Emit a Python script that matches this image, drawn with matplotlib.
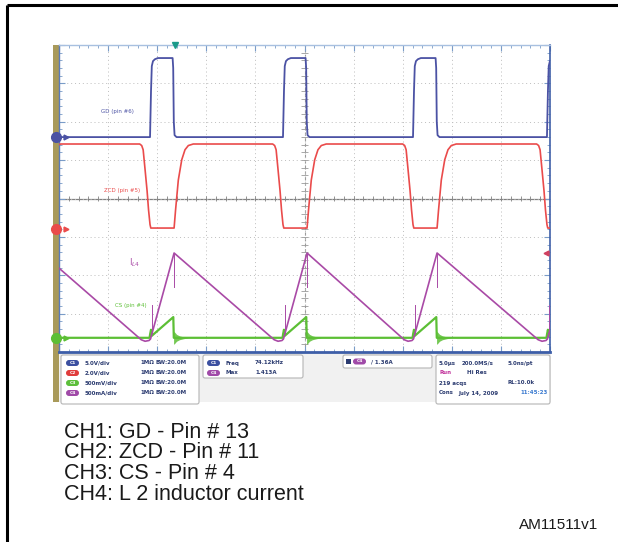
import numpy as np
import matplotlib
matplotlib.use("Agg")
import matplotlib.pyplot as plt
from matplotlib.patches import Rectangle, FancyBboxPatch

# scope grid: 5 us/div, 10 x 8 divisions, levels in divisions from centre
us_per_div = 5.0
n_xdiv = 10
n_ydiv = 8

# gate drive rising edges (us)
gd_edges = [-4.22, 9.27, 22.81, 36.05, 49.69]

# one switching cycle of each trace, time relative to the gate edge (us)
gd_t = [-0.05, 0.0, 0.1, 0.18, 0.3, 0.5, 0.8, 2.30, 2.36, 2.42, 2.5, 2.7]
gd_v = [1.60, 1.60, 2.80, 3.45, 3.58, 3.63, 3.66, 3.66, 3.40, 2.00, 1.65, 1.60]

zcd_t = [-1.05, -0.85, -0.7, -0.5, -0.3, -0.15, 0.0, 0.08, 2.45, 2.6, 2.88, 3.23, 3.56, 3.9, 4.4]
zcd_v = [1.42, 1.38, 1.27, 0.74, 0.2, -0.30, -0.68, -0.77, -0.77, -0.30, 0.48, 1.01, 1.27, 1.38, 1.42]

il_t = [-0.9, -0.5, -0.1, 0.05, 2.45]
il_v = [-3.68, -3.72, -3.70, -3.66, -1.42]
il_spikes = [(0.2, -2.78, -3.51), (2.48, -1.45, -2.30)]

cs_t = [-0.05, 0.02, 0.1, 0.17, 2.37, 2.42]
cs_v = [-3.63, -3.52, -3.42, -3.58, -3.09, -3.63]
cs_ring_t = [2.40, 2.5, 2.7, 3.0, 3.4, 3.9]
cs_ring_hw = [0.17, 0.15, 0.09, 0.05, 0.025, 0.0]
cs_base = -3.63

# channel ground markers (div)
ground_levels = [1.60, -0.79, -3.63]

trace_colors = ["#4b52a4", "#ea4b4b", "#5cbf35", "#a94aa6"]
pill_colors = ["#3b4fa0", "#e03c3c", "#5cbf3a", "#a04aa8"]

trace_labels = ["GD (pin #6)", "ZCD (pin #5)", "CS (pin #4)", "I$_{L4}$"]
trace_label_pos = [(6.0, 2.26), (6.4, 0.2), (7.3, -2.8), (7.7, -1.68)]
trace_label_size = [4.0, 4.0, 4.0, 6.0]

ch_names = ["C1", "C2", "C3", "C4"]
ch_scales = ["5.0V/div", "2.0V/div", "500mV/div", "500mA/div"]
meas_rows = [("C1", "Freq", "74.12kHz"), ("C4", "Max", "1.413A")]
trig_level = "1.36A"
acq_rows = [["5.0\u00b5s", "200.0MS/s", "5.0ns/pt"],
            ["Run", "Hi Res"],
            ["219 acqs", "RL:10.0k"],
            ["Cons", "July 14, 2009", "11:45:23"]]

notes = ["CH1: GD - Pin # 13",
         "CH2: ZCD - Pin # 11",
         "CH3: CS - Pin # 4",
         "CH4: L 2 inductor current"]
fig_id = "AM11511v1"


def build(edges, rel_t, rel_v):
    t = []
    v = []
    for e in edges:
        t.extend([e + x for x in rel_t])
        v.extend(rel_v)
    return np.array(t), np.array(v)


W, H = 618, 542
fig = plt.figure(figsize=(W / 100, H / 100), dpi=100)

# page layer in pixel coordinates
bg = fig.add_axes([0, 0, 1, 1])
bg.set_xlim(0, W)
bg.set_ylim(H, 0)
bg.axis("off")

bg.plot([7, W], [5, 5], color="black", lw=2.2, solid_capstyle="butt")
bg.plot([7, 7], [5, H], color="black", lw=2.2, solid_capstyle="butt")

# gold bezel strip and readout panel
bg.add_patch(Rectangle((53, 45), 6, 357, color="#a99a5a", lw=0))
bg.add_patch(Rectangle((59, 352), 492, 50, color="#f1f1f1", lw=0))

small = dict(fontsize=4.0, fontweight="bold", color="#2b3b70", va="center", family="DejaVu Sans")


def pill(x, y, name, col):
    bg.add_patch(FancyBboxPatch((x, y - 3), 13, 6, boxstyle="round,pad=0,rounding_size=3",
                                fc=col, ec="none"))
    bg.text(x + 6.5, y, name, fontsize=3.2, color="white", ha="center", va="center",
            fontweight="bold")


def box(x0, y0, x1, y1):
    bg.add_patch(FancyBboxPatch((x0, y0), x1 - x0, y1 - y0, boxstyle="round,pad=0,rounding_size=2",
                                fc="white", ec="#b5b5b5", lw=0.8))


box(61, 355, 199, 404)
for i, (n, s) in enumerate(zip(ch_names, ch_scales)):
    y = 363 + i * 10
    pill(66, y, n, pill_colors[i])
    bg.text(85, y, s, **small)
    bg.text(140, y, "1M\u03a9", **small)
    bg.text(156, y, "BW:20.0M", **small)

box(203, 355, 303, 378)
for i, (n, lab, val) in enumerate(meas_rows):
    y = 363 + i * 10
    pill(207, y, n, pill_colors[ch_names.index(n)])
    bg.text(226, y, lab, **small)
    bg.text(255, y, val, **small)

box(343, 355, 432, 368)
bg.add_patch(Rectangle((345.5, 358.5), 5, 5, color="#2b3b70", lw=0))
pill(353, 361.5, "C4", pill_colors[3])
bg.text(371, 361.5, "/ " + trig_level, **small)

box(436, 355, 550, 404)
acq_x = [[439, 462, 508], [439, 467], [439, 507], [439, 458, 520]]
for i, (row, xs) in enumerate(zip(acq_rows, acq_x)):
    y = 363 + i * 10
    for j, (txt, x) in enumerate(zip(row, xs)):
        col = small["color"]
        if txt == "Run":
            col = "#c0309a"
        if i == 3 and j == 2:
            col = "#3a7ad0"
        bg.text(x, y, txt, **{**small, "color": col})

for i, line in enumerate(notes):
    bg.text(64, 432 + i * 20.7, line, fontsize=15.5, family="Liberation Sans",
            va="center", ha="left", color="#1a1a1a")
bg.text(598, 525, fig_id, fontsize=11, family="Liberation Sans", va="center",
        ha="right", color="#1a1a1a")

# scope screen
ax = fig.add_axes([59 / W, 1 - 352 / H, 491 / W, 307 / H])
ax.set_zorder(2)
ax.set_xlim(0, n_xdiv * us_per_div)
ax.set_ylim(-n_ydiv / 2, n_ydiv / 2)
ax.set_xticks(np.arange(0, n_xdiv * us_per_div + 1, us_per_div))
ax.set_xticks(np.arange(0, n_xdiv * us_per_div + 0.1, 1.0), minor=True)
ax.set_yticks(np.arange(-n_ydiv / 2, n_ydiv / 2 + 1, 1))
ax.set_yticks(np.arange(-n_ydiv / 2, n_ydiv / 2 + 0.01, 0.2), minor=True)
ax.tick_params(which="both", direction="in", top=True, right=True,
               labelbottom=False, labelleft=False, color="#7a9cc8")
ax.tick_params(which="major", length=4, width=0.8)
ax.tick_params(which="minor", length=2, width=0.6)
ax.grid(which="major", color="#bdbdbd", lw=0.7, ls=(0, (1, 3)))
for side, col, lw in [("top", "#a8c0e0", 1.0), ("right", "#4060a8", 1.2),
                      ("bottom", "#3d5ea8", 2.0), ("left", "#5a7ab8", 1.0)]:
    ax.spines[side].set_color(col)
    ax.spines[side].set_linewidth(lw)

# centre graticule
xc = n_xdiv * us_per_div / 2
ax.axhline(0, color="#808080", lw=0.9, zorder=1)
ax.axvline(xc, color="#9a9a9a", lw=0.8, ls=(0, (3, 2)), zorder=1)
ax.vlines(np.arange(0, n_xdiv * us_per_div, 1.0), -0.07, 0.07, color="#808080", lw=0.6)
ax.hlines(np.arange(-n_ydiv / 2, n_ydiv / 2, 0.2), xc - 0.35, xc + 0.35, color="#9a9a9a", lw=0.6)

t, v = build(gd_edges, gd_t, gd_v)
ax.plot(t, v, color=trace_colors[0], lw=1.3, zorder=3)

t, v = build(gd_edges, zcd_t, zcd_v)
ax.plot(t, v, color=trace_colors[1], lw=1.2, zorder=3)

t, v = build(gd_edges, cs_t, cs_v)
ax.plot(t, v, color=trace_colors[2], lw=1.6, zorder=3)
for e in gd_edges:
    rt = np.array(cs_ring_t) + e
    hw = np.array(cs_ring_hw)
    ax.fill_between(rt, cs_base - hw, cs_base + hw, color=trace_colors[2], lw=0,
                    alpha=0.85, zorder=3)

t, v = build(gd_edges, il_t, il_v)
ax.plot(t, v, color=trace_colors[3], lw=1.2, zorder=4)
for e in gd_edges:
    for dt, y0, y1 in il_spikes:
        ax.plot([e + dt, e + dt], [y0, y1], color=trace_colors[3], lw=0.7, zorder=4)

label_colors = [trace_colors[0], trace_colors[1], trace_colors[2], trace_colors[3]]
for (x, y), lab, col, fs in zip(trace_label_pos, trace_labels, label_colors, trace_label_size):
    ax.text(x, y, lab, fontsize=fs, color=col, ha="center", va="center", zorder=5)

# channel ground and trigger markers
for lvl, col in zip(ground_levels, trace_colors[:3]):
    ax.plot([-0.3], [lvl], marker="o", ms=7, color=col, clip_on=False, zorder=6)
    ax.plot([0.7], [lvl], marker=">", ms=3.5, color=col, clip_on=False, zorder=6)
ax.plot([11.8], [n_ydiv / 2], marker="v", ms=5, color="#1a9a8a", clip_on=False, zorder=6)
ax.plot([49.6], [-1.42], marker="<", ms=3.5, color="#d04060", clip_on=False, zorder=6)

fig.savefig("out.png", dpi=100)
